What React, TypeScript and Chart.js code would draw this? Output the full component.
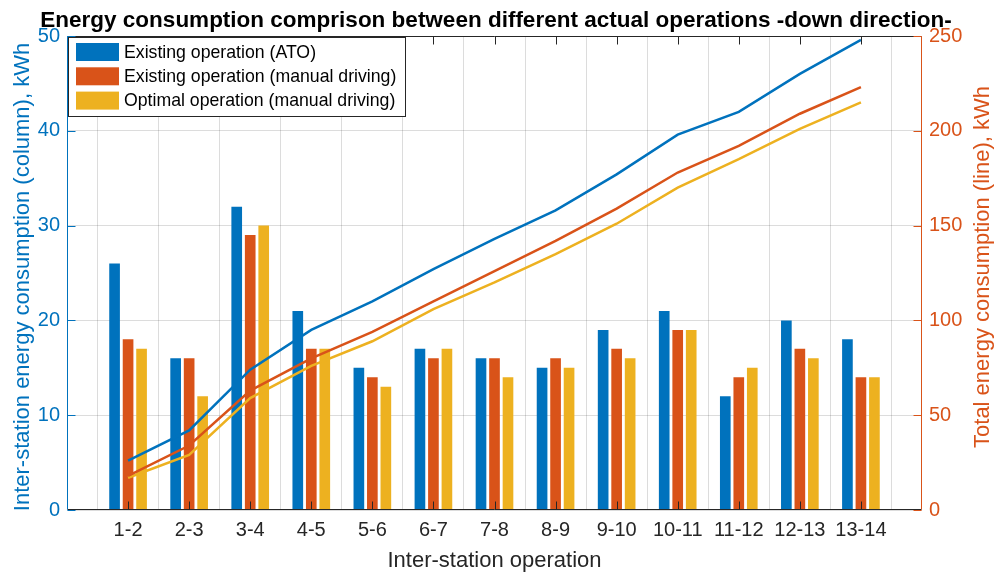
import { useEffect, useRef } from 'react';
import { Chart, registerables } from 'chart.js';

Chart.register(...registerables);

// Inter-station segments along the line
const segments = ['1-2', '2-3', '3-4', '4-5', '5-6', '6-7', '7-8', '8-9', '9-10', '10-11', '11-12', '12-13', '13-14'];

// Per-segment energy consumption (columns), kWh
const atoColumn = [26, 16, 32, 21, 15, 17, 16, 15, 19, 21, 12, 20, 18];
const manualColumn = [18, 16, 29, 17, 14, 16, 16, 16, 17, 19, 14, 17, 14];
const optimalColumn = [17, 12, 30, 17, 13, 17, 14, 15, 16, 19, 15, 16, 14];

// Running total energy consumption (lines), kWh
const atoTotal = [26, 42, 74, 95, 110, 127, 143, 158, 177, 198, 210, 230, 248];
const manualTotal = [18, 34, 63, 80, 94, 110, 126, 142, 159, 178, 192, 209, 223];
const optimalTotal = [17, 29, 59, 76, 89, 106, 120, 135, 151, 170, 185, 201, 215];

const seriesNames = [
  'Existing operation (ATO)',
  'Existing operation (manual driving)',
  'Optimal operation (manual driving)',
];

const leftTicks = [0, 10, 20, 30, 40, 50];
const rightTicks = [0, 50, 100, 150, 200, 250];

const BLUE = '#0072BD';
const ORANGE = '#D95319';
const YELLOW = '#EDB120';
const AXIS = '#262626';
const GRID = 'rgba(38,38,38,0.16)';
const FONT = '"Liberation Sans", Arial, Helvetica, sans-serif';

const TITLE = 'Energy consumption comprison between different actual operations -down direction-';
const LEFT_TITLE = 'Inter-station energy consumption (column), kWh';
const RIGHT_TITLE = 'Total energy consumption (line), kWh';

const toPoints = (vals: number[]) => vals.map((v, i) => ({ x: i + 1, y: v }));

function drawUpwardText(ctx: CanvasRenderingContext2D, text: string, x: number, y: number, color: string) {
  ctx.save();
  ctx.translate(x, y);
  ctx.rotate(-Math.PI / 2);
  ctx.fillStyle = color;
  ctx.font = `22px ${FONT}`;
  ctx.textAlign = 'center';
  ctx.textBaseline = 'alphabetic';
  ctx.fillText(text, 0, 0);
  ctx.restore();
}

// Draws the axes box, inward tick marks, the y labels, the title and the legend
const framePlugin = {
  id: 'frame',
  afterDraw(chart: any) {
    const { ctx, chartArea } = chart;
    const { left, right, top, bottom } = chartArea;
    const xs = chart.scales.x;
    const ys = chart.scales.y;
    const ys2 = chart.scales.y2;
    const L = Math.round(left) + 0.5;
    const R = Math.round(right) - 0.5;
    const T = Math.round(top) + 0.5;
    const B = Math.round(bottom) - 0.5;
    const tick = 8;

    ctx.save();
    ctx.lineWidth = 1;

    // top and bottom lines with inward ticks
    ctx.strokeStyle = AXIS;
    ctx.beginPath();
    ctx.moveTo(L, T);
    ctx.lineTo(R, T);
    ctx.moveTo(L, B);
    ctx.lineTo(R, B);
    segments.forEach((_, i) => {
      const px = Math.round(xs.getPixelForValue(i + 1)) + 0.5;
      ctx.moveTo(px, T);
      ctx.lineTo(px, T + tick);
      ctx.moveTo(px, B);
      ctx.lineTo(px, B - tick);
    });
    ctx.stroke();

    // left axis
    ctx.strokeStyle = BLUE;
    ctx.beginPath();
    ctx.moveTo(L, T);
    ctx.lineTo(L, B);
    leftTicks.forEach((v) => {
      const py = Math.round(ys.getPixelForValue(v)) + 0.5;
      ctx.moveTo(L, py);
      ctx.lineTo(L + tick, py);
    });
    ctx.stroke();

    // right axis
    ctx.strokeStyle = ORANGE;
    ctx.beginPath();
    ctx.moveTo(R, T);
    ctx.lineTo(R, B);
    rightTicks.forEach((v) => {
      const py = Math.round(ys2.getPixelForValue(v)) + 0.5;
      ctx.moveTo(R, py);
      ctx.lineTo(R - tick, py);
    });
    ctx.stroke();

    // y axis labels, both reading upward
    drawUpwardText(ctx, LEFT_TITLE, 29, 277, BLUE);
    drawUpwardText(ctx, RIGHT_TITLE, 989, 267, ORANGE);

    // title
    ctx.fillStyle = '#000';
    ctx.font = `bold 22.5px ${FONT}`;
    ctx.textAlign = 'center';
    ctx.textBaseline = 'alphabetic';
    ctx.fillText(TITLE, 496, 27);

    // legend
    const lx = 68.5;
    const ly = 37.5;
    const lw = 337;
    const lh = 79;
    ctx.fillStyle = '#fff';
    ctx.fillRect(lx, ly, lw, lh);
    ctx.strokeStyle = AXIS;
    ctx.strokeRect(lx, ly, lw, lh);
    const colors = [BLUE, ORANGE, YELLOW];
    ctx.font = `17.7px ${FONT}`;
    ctx.textAlign = 'left';
    ctx.textBaseline = 'middle';
    seriesNames.forEach((name, i) => {
      const cy = 52 + i * 24.3;
      ctx.fillStyle = colors[i];
      ctx.fillRect(76, cy - 9, 43, 18);
      ctx.fillStyle = '#000';
      ctx.fillText(name, 124, cy + 1);
    });

    ctx.restore();
  },
};

export default function App() {
  const canvasRef = useRef<HTMLCanvasElement | null>(null);

  useEffect(() => {
    const canvas = canvasRef.current;
    if (!canvas) return;

    const barOpts = {
      type: 'bar' as const,
      yAxisID: 'y',
      order: 1,
      categoryPercentage: 0.663,
      barPercentage: 0.79,
      borderWidth: 0,
    };
    const lineOpts = {
      type: 'line' as const,
      yAxisID: 'y2',
      order: 0,
      borderWidth: 2.5,
      pointRadius: 0,
      tension: 0,
      fill: false,
    };

    const chart = new Chart(canvas, {
      type: 'bar',
      data: {
        datasets: [
          { ...lineOpts, label: 'ATO total', data: toPoints(atoTotal), borderColor: BLUE, backgroundColor: BLUE },
          { ...lineOpts, label: 'Manual total', data: toPoints(manualTotal), borderColor: ORANGE, backgroundColor: ORANGE },
          { ...lineOpts, label: 'Optimal total', data: toPoints(optimalTotal), borderColor: YELLOW, backgroundColor: YELLOW },
          { ...barOpts, label: seriesNames[0], data: toPoints(atoColumn), backgroundColor: BLUE },
          { ...barOpts, label: seriesNames[1], data: toPoints(manualColumn), backgroundColor: ORANGE },
          { ...barOpts, label: seriesNames[2], data: toPoints(optimalColumn), backgroundColor: YELLOW },
        ] as any,
      },
      options: {
        responsive: false,
        animation: false,
        layout: { padding: { top: 36, left: 0, right: 0, bottom: 0 } },
        plugins: {
          legend: { display: false },
          title: { display: false },
          tooltip: { enabled: false },
        },
        scales: {
          x: {
            type: 'linear',
            min: 0,
            max: 14,
            offset: false,
            afterBuildTicks: (scale: any) => {
              scale.ticks = Array.from({ length: 15 }, (_, i) => ({ value: i }));
            },
            ticks: {
              autoSkip: false,
              maxRotation: 0,
              padding: 8,
              color: AXIS,
              font: { family: FONT, size: 20 },
              callback: (v: any) => segments[Number(v) - 1] ?? '',
            },
            grid: { color: GRID, drawTicks: false },
            border: { display: false },
            title: {
              display: true,
              text: 'Inter-station operation',
              color: AXIS,
              font: { family: FONT, size: 22 },
              padding: { top: 0, bottom: 0 },
            },
            afterFit: (s: any) => {
              s.height = 64;
            },
          },
          y: {
            type: 'linear',
            position: 'left',
            min: 0,
            max: 50,
            afterBuildTicks: (scale: any) => {
              scale.ticks = leftTicks.map((value) => ({ value }));
            },
            ticks: {
              padding: 7,
              color: BLUE,
              font: { family: FONT, size: 20 },
            },
            grid: { color: GRID, drawTicks: false },
            border: { display: false },
            afterFit: (s: any) => {
              s.width = 67;
            },
          },
          y2: {
            type: 'linear',
            position: 'right',
            min: 0,
            max: 250,
            afterBuildTicks: (scale: any) => {
              scale.ticks = rightTicks.map((value) => ({ value }));
            },
            ticks: {
              padding: 7,
              color: ORANGE,
              font: { family: FONT, size: 20 },
            },
            grid: { display: false, drawTicks: false },
            border: { display: false },
            afterFit: (s: any) => {
              s.width = 73;
            },
          },
        },
      } as any,
      plugins: [framePlugin],
    });

    return () => chart.destroy();
  }, []);

  return (
    <div style={{ position: 'absolute', left: 0, top: 0, width: 995, height: 574, background: '#fff' }}>
      <canvas ref={canvasRef} width={995} height={574} style={{ display: 'block' }} />
    </div>
  );
}
